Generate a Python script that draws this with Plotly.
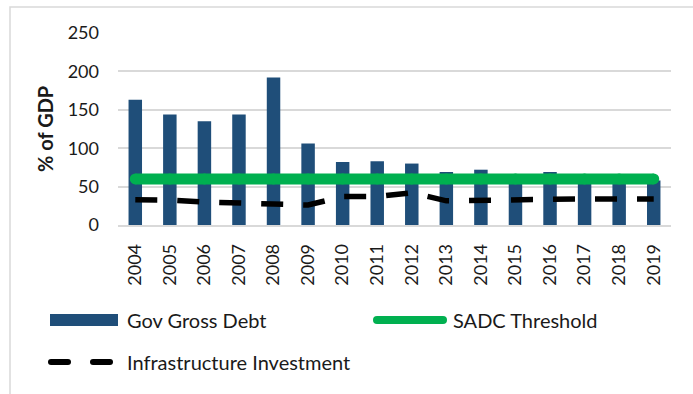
import plotly.graph_objects as go

# Data (% of GDP)
years = [str(y) for y in range(2004, 2020)]
gov_gross_debt = [163, 144, 135, 144, 192, 106, 82, 83, 80, 69, 72, 63, 69, 63, 62, 58]
sadc_threshold = [60] * 16
infrastructure_investment = [33, 32.5, 30, 28, 27.3, 26, 37, 37, 42, 31.5, 32.5, 33.4, 34, 34, 34, 34]
y_ticks = [0, 50, 100, 150, 200, 250]

W, H = 693, 394
L, R, T, B = 118, 22, 33, 169
PW, PH = W - L - R, H - T - B

FONT = "Lato"
TXT = "#1a1a1a"
GRID = "#d9d9d9"
BLUE = "#1f4e79"
GREEN = "#00b050"


def px_x(p):
    return (p - L) / PW


def px_y(p):
    return (H - B - p) / PH


fig = go.Figure()

fig.add_trace(go.Bar(
    x=years, y=gov_gross_debt, name="Gov Gross Debt",
    marker=dict(color=BLUE, line=dict(width=0)), width=0.39,
))
fig.add_trace(go.Scatter(
    x=years, y=infrastructure_investment, name="Infrastructure Investment",
    mode="lines", line=dict(color="black", width=5.5, dash="22px,20px"),
))
fig.add_trace(go.Scatter(
    x=years, y=sadc_threshold, name="SADC Threshold",
    mode="lines+markers", line=dict(color=GREEN, width=11),
    marker=dict(color=GREEN, size=11, line=dict(width=0)),
))

shapes = []
# outer chart border
shapes.append(dict(type="rect", xref="paper", yref="paper",
                   x0=px_x(10), x1=px_x(720), y0=px_y(7), y1=px_y(420),
                   line=dict(color=GRID, width=1.5), fillcolor="rgba(0,0,0,0)", layer="below"))

# legend: bar swatch
shapes.append(dict(type="rect", xref="paper", yref="paper",
                   x0=px_x(50), x1=px_x(118), y0=px_y(314), y1=px_y(326),
                   line=dict(width=0), fillcolor=BLUE))


def rounded_segment(x0, x1, yc, w, color):
    r = w / 2
    out = [dict(type="line", xref="paper", yref="paper",
                x0=px_x(x0 + r), x1=px_x(x1 - r), y0=px_y(yc), y1=px_y(yc),
                line=dict(color=color, width=w))]
    for cx in (x0 + r, x1 - r):
        out.append(dict(type="circle", xref="paper", yref="paper",
                        x0=px_x(cx - r), x1=px_x(cx + r), y0=px_y(yc - r), y1=px_y(yc + r),
                        line=dict(width=0), fillcolor=color))
    return out


# legend: threshold line swatch
shapes += rounded_segment(373, 447, 320, 8, GREEN)
# legend: dashed line swatch
shapes += rounded_segment(48, 71, 362, 6, "black")
shapes += rounded_segment(90, 113, 362, 6, "black")

annotations = [
    dict(text="Gov Gross Debt", x=px_x(125), y=px_y(320)),
    dict(text="SADC Threshold", x=px_x(451), y=px_y(320)),
    dict(text="Infrastructure Investment", x=px_x(125), y=px_y(362)),
]
annotations = [dict(a, xref="paper", yref="paper", xanchor="left", yanchor="middle",
                    showarrow=False, font=dict(family=FONT, size=20, color=TXT))
               for a in annotations]
annotations.append(dict(text="<b>% of GDP</b>", xref="paper", yref="paper",
                        x=px_x(45), y=px_y(129), textangle=-90, showarrow=False,
                        xanchor="center", yanchor="middle",
                        font=dict(family=FONT, size=20, color=TXT)))

fig.update_layout(
    width=W, height=H,
    margin=dict(l=L, r=R, t=T, b=B, pad=0),
    paper_bgcolor="white", plot_bgcolor="white",
    showlegend=False,
    font=dict(family=FONT, size=18, color=TXT),
    shapes=shapes, annotations=annotations,
    xaxis=dict(
        type="category", tickangle=-90, showgrid=False,
        showline=True, linecolor=GRID, linewidth=1.5,
        ticks="", ticklabelstandoff=10,
        tickfont=dict(family=FONT, size=18, color=TXT),
        range=[-0.5, 15.5],
    ),
    yaxis=dict(
        range=[0, 250], tickvals=y_ticks, showgrid=True, gridcolor=GRID, gridwidth=1.5,
        zeroline=False, showline=False, ticks="", ticklabelstandoff=18,
        tickfont=dict(family=FONT, size=18, color=TXT),
    ),
)

fig.write_html("out.html")
